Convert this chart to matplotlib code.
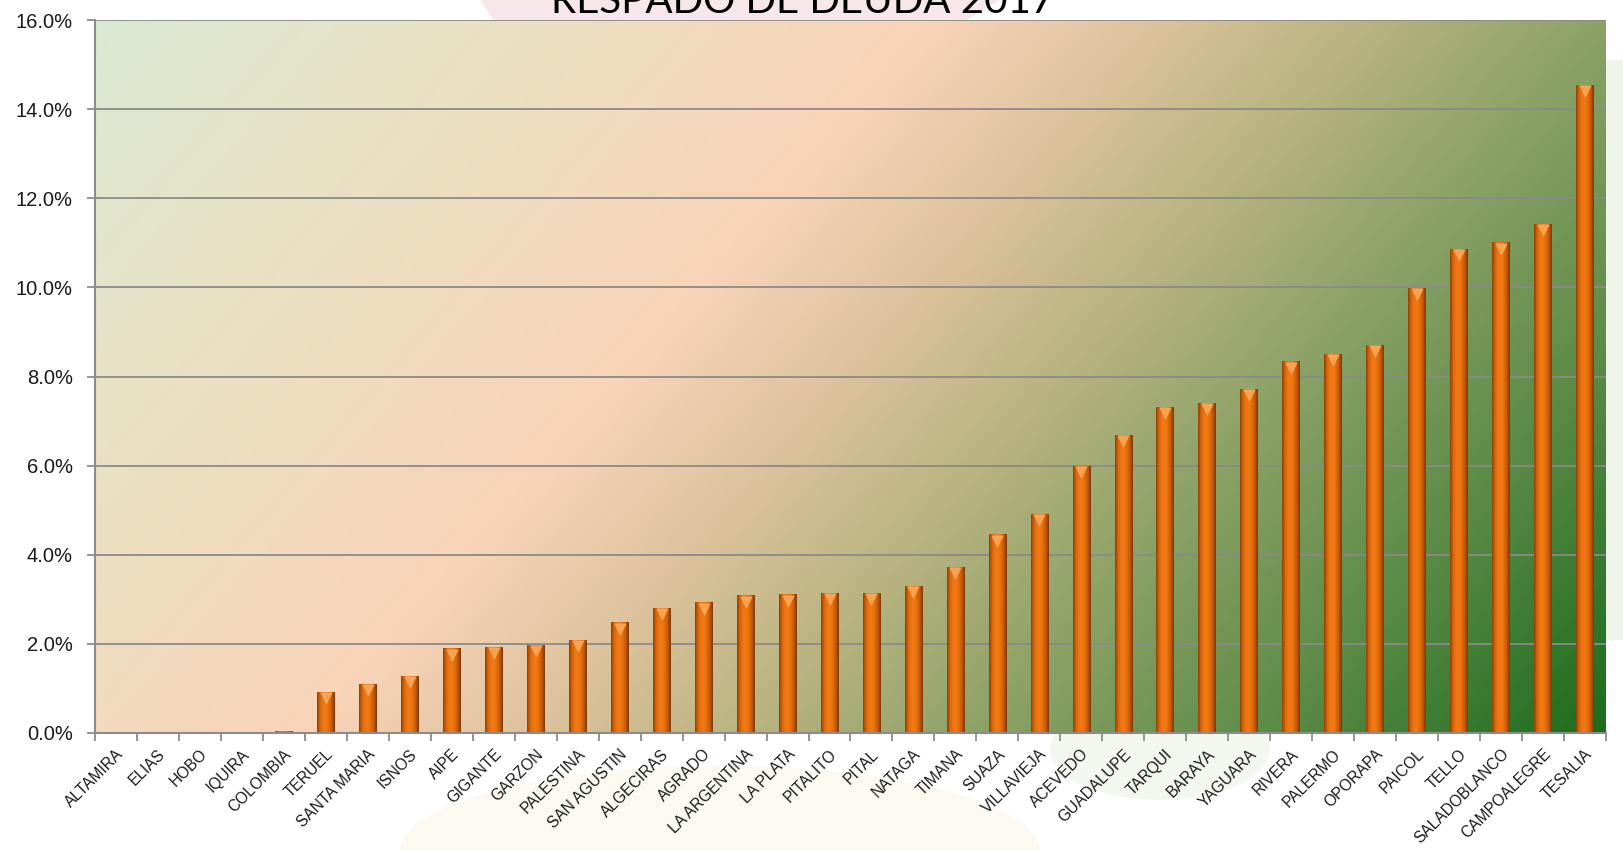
import numpy as np
import matplotlib
matplotlib.use("Agg")
import matplotlib.pyplot as plt
from matplotlib.colors import LinearSegmentedColormap
from matplotlib.transforms import ScaledTranslation

categories = ["ALTAMIRA", "ELIAS", "HOBO", "IQUIRA", "COLOMBIA", "TERUEL", "SANTA MARIA",
              "ISNOS", "AIPE", "GIGANTE", "GARZON", "PALESTINA", "SAN AGUSTIN", "ALGECIRAS",
              "AGRADO", "LA ARGENTINA", "LA PLATA", "PITALITO", "PITAL", "NATAGA", "TIMANA",
              "SUAZA", "VILLAVIEJA", "ACEVEDO", "GUADALUPE", "TARQUI", "BARAYA", "YAGUARA",
              "RIVERA", "PALERMO", "OPORAPA", "PAICOL", "TELLO", "SALADOBLANCO",
              "CAMPOALEGRE", "TESALIA"]
values = [0.0, 0.0, 0.0, 0.0, 0.05, 0.93, 1.11, 1.28, 1.90, 1.93, 1.97, 2.09, 2.48, 2.81,
          2.93, 3.09, 3.11, 3.14, 3.14, 3.30, 3.72, 4.46, 4.92, 5.99, 6.69, 7.32, 7.41, 7.73,
          8.34, 8.50, 8.71, 9.99, 10.87, 11.01, 11.43, 14.54]
yticks = [0, 2, 4, 6, 8, 10, 12, 14, 16]
title = "RESPADO DE DEUDA 2017"

W, H = 1624, 851
fig = plt.figure(figsize=(W / 100, H / 100), dpi=100)
fig.patch.set_facecolor("white")

# faint watermark shapes
fig.patches.append(plt.Polygon([[480 / W, 1], [1000 / W, 1], [900 / W, 0.93], [520 / W, 0.93]],
                               closed=True, transform=fig.transFigure, facecolor="#f7e6ea",
                               edgecolor="none", zorder=0))
fig.patches.append(matplotlib.patches.Ellipse((720 / W, 0.0), 640 / W, 0.2,
                                              transform=fig.transFigure, facecolor="#fcf9f2",
                                              edgecolor="none", zorder=0))
fig.patches.append(matplotlib.patches.Ellipse((1160 / W, 0.12), 220 / W, 0.12,
                                              transform=fig.transFigure, facecolor="#f3f7ef",
                                              edgecolor="none", zorder=0))
fig.patches.append(matplotlib.patches.Rectangle((1600 / W, 1 - 640 / H), 30 / W, 580 / H,
                                                transform=fig.transFigure, facecolor="#f0f5eb",
                                                edgecolor="none", zorder=0))

ax = fig.add_axes([95 / W, 1 - 733 / H, (1606 - 95) / W, (733 - 20) / H])
ax.set_zorder(1)

n = len(categories)
x = np.arange(n)
ax.set_xlim(-0.5, n - 0.5)
ax.set_ylim(0, 16)

# background gradient
aw, ah = 1511, 713
gx, gy = np.meshgrid(np.linspace(0, aw, 400), np.linspace(0, ah, 200))
t = 0.754 * gx + 0.657 * gy
t = (t - t.min()) / (t.max() - t.min())
stops = [(0.0, "#dbe9d2"), (0.2, "#ebe0c2"), (0.39, "#f9d4b9"), (0.5, "#dcc29c"),
         (0.6, "#b8b380"), (0.72, "#88a064"), (0.85, "#5a8a46"), (1.0, "#1d6c1c")]
bg_cmap = LinearSegmentedColormap.from_list("bg", stops)
ax.imshow(bg_cmap(t), extent=[-0.5, n - 0.5, 0, 16], origin="upper", aspect="auto",
          interpolation="bilinear", zorder=0)

# grid
ax.set_yticks(yticks)
ax.set_yticklabels([f"{v:.1f}%" for v in yticks], fontsize=14.5, family="Liberation Sans")
ax.yaxis.grid(True, color="#8a8a8a", lw=1.3)
ax.set_axisbelow(False)
for gl in ax.yaxis.get_gridlines():
    gl.set_zorder(1)

# bars with cylinder shading
bar_w = 0.42
bars = ax.bar(x, values, width=bar_w, color="#e46c0a", edgecolor="none", zorder=2)
shade = LinearSegmentedColormap.from_list("bar", ["#8a4206", "#d8650a", "#ef7612", "#f07a16",
                                                  "#e56c0a", "#c25a08", "#7a3806"])
grad = shade(np.linspace(0, 1, 64))[None, :, :]
for b, v in zip(bars, values):
    if v <= 0:
        continue
    x0 = b.get_x()
    im = ax.imshow(grad, extent=[x0, x0 + bar_w, 0, v], aspect="auto",
                   interpolation="bilinear", zorder=3)
    im.set_clip_path(b)

# top triangles
tri_vals = [v for v in values if v > 0.5]
tri_x = [xi for xi, v in zip(x, values) if v > 0.5]
tri_tr = ax.transData + ScaledTranslation(0, -4.5 / 72, fig.dpi_scale_trans)
ax.scatter(tri_x, tri_vals, marker="v", s=65, color="#f9a34e", edgecolors="#f6b070",
           linewidths=0.4, transform=tri_tr, zorder=4)

# axes styling
for s in ["top", "right"]:
    ax.spines[s].set_visible(False)
for s in ["left", "bottom"]:
    ax.spines[s].set_color("#8c8c8c")
    ax.spines[s].set_linewidth(1.5)
    ax.spines[s].set_zorder(5)

ax.tick_params(axis="y", direction="out", length=6, width=1.3, color="#8c8c8c", pad=10,
               labelcolor="#1a1a1a")
ax.set_xticks(x)
ax.set_xticklabels(categories, rotation=45, ha="right", va="center", rotation_mode="anchor",
                   fontsize=11.2, family="Liberation Sans", color="#1a1a1a")
ax.tick_params(axis="x", which="major", length=0, pad=13.5)
ax.set_xticks(np.arange(-0.5, n, 1.0), minor=True)
ax.tick_params(axis="x", which="minor", direction="out", length=6, width=1.3, color="#8c8c8c")
for lbl in ax.get_xticklabels():
    lbl.set_transform(lbl.get_transform() + ScaledTranslation(5 / 100, 0, fig.dpi_scale_trans))

fig.text(803 / W, 1 - 13 / H, title, ha="center", va="baseline", fontsize=29,
         family="Lato", color="black")

fig.savefig("out.png", dpi=100, facecolor="white")
